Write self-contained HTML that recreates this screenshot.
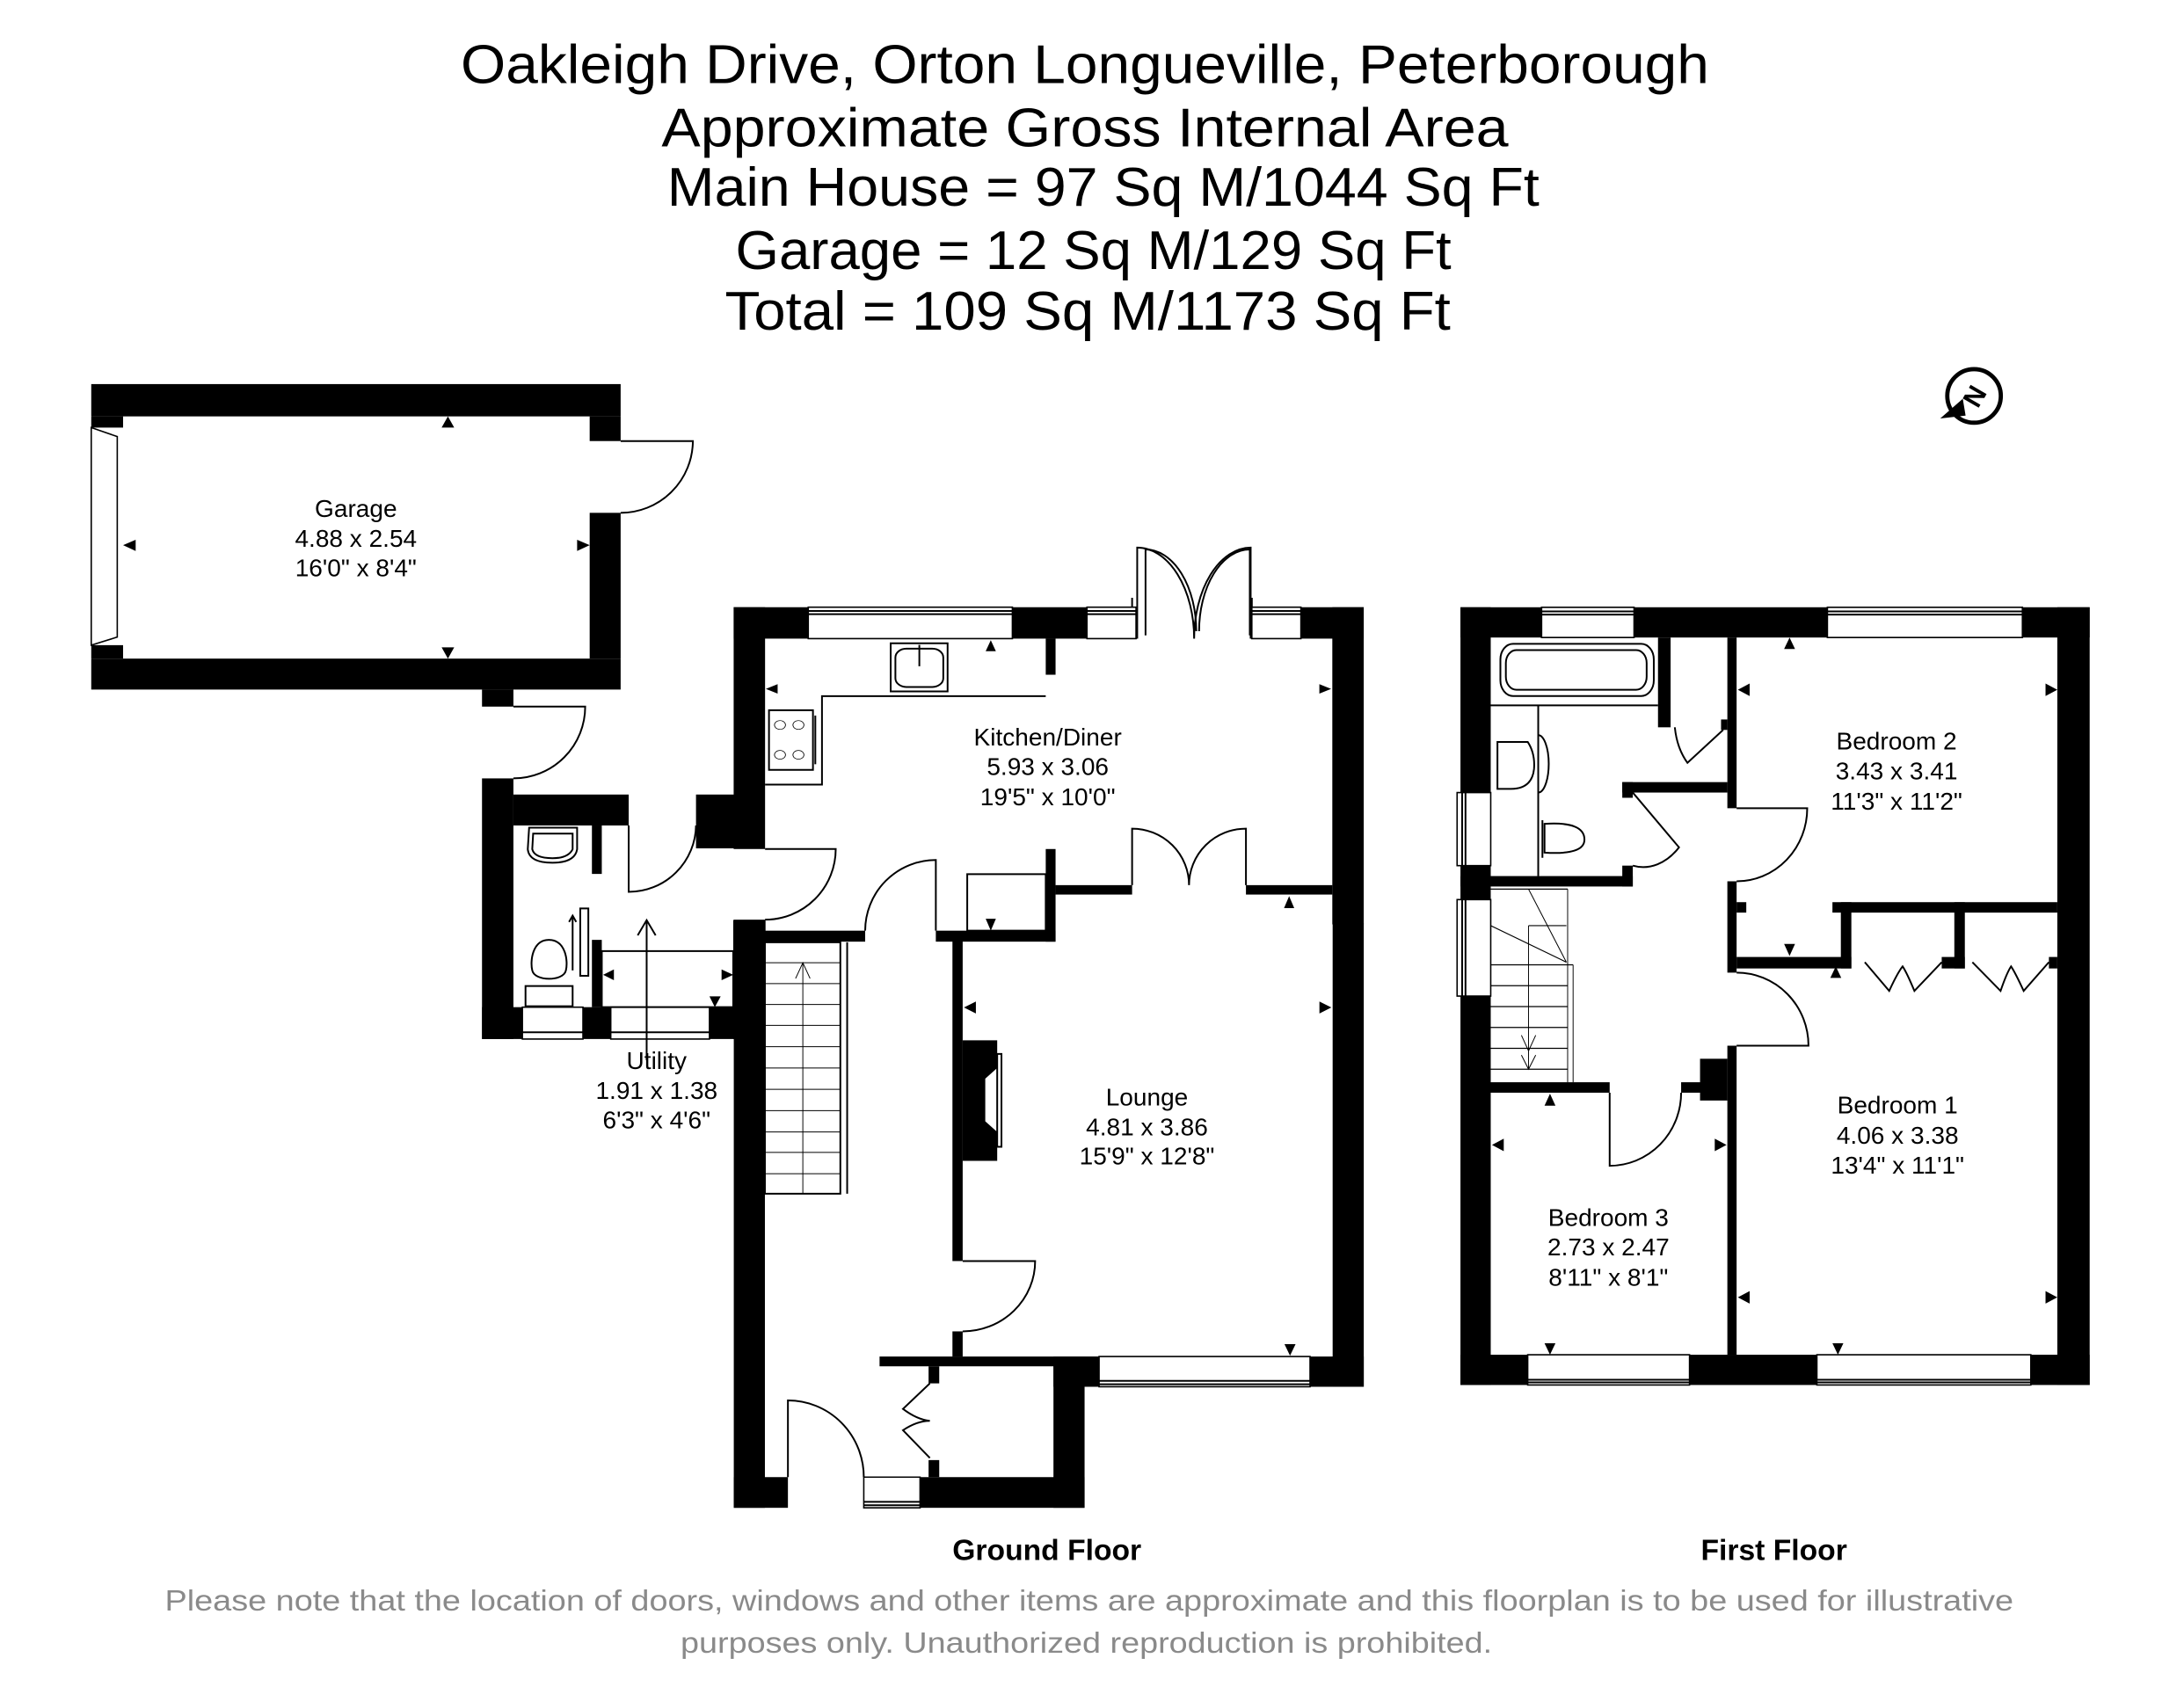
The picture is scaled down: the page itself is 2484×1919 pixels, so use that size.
<!DOCTYPE html>
<html><head><meta charset="utf-8"><style>
html,body{margin:0;padding:0;background:#fff}
svg{display:block}
.s{fill:none;stroke:#000;stroke-width:2;vector-effect:non-scaling-stroke}
.w{fill:#fff;stroke:#000;stroke-width:1.6;vector-effect:non-scaling-stroke}
.t{font-family:"Liberation Sans",sans-serif;fill:#000}
</style></head><body>
<svg width="2484" height="1919" viewBox="0 0 1550 1197.4" xmlns="http://www.w3.org/2000/svg">
<rect width="1550" height="1197.4" fill="#fff"/>
<!-- Title -->
<g class="t" font-size="39" text-anchor="middle">
<text x="770" y="59" textLength="886" lengthAdjust="spacingAndGlyphs">Oakleigh Drive, Orton Longueville, Peterborough</text>
<text x="770" y="104" textLength="601" lengthAdjust="spacingAndGlyphs">Approximate Gross Internal Area</text>
<text x="783" y="146" textLength="619" lengthAdjust="spacingAndGlyphs">Main House = 97 Sq M/1044 Sq Ft</text>
<text x="776" y="191" textLength="508" lengthAdjust="spacingAndGlyphs">Garage = 12 Sq M/129 Sq Ft</text>
<text x="772" y="234" textLength="515" lengthAdjust="spacingAndGlyphs">Total = 109 Sq M/1173 Sq Ft</text>
</g>

<!-- Compass -->
<g transform="translate(1401,281)">
<circle r="19" fill="none" stroke="#000" stroke-width="3"/>
<text class="t" x="0" y="7" font-size="19" font-weight="bold" text-anchor="middle" transform="rotate(-60)">N</text>
<path d="M-24,16 L-8,2 L-6,14 Z" fill="#000"/>
</g>

<!-- Garage + utility (zoom3 coords) -->
<g transform="translate(56.16,262.1) scale(0.3184)">
<rect x="27" y="33" width="1180" height="72"/>
<rect x="27" y="105" width="71" height="25"/>
<rect x="27" y="615" width="71" height="30"/>
<path class="w" d="M27,130 L85,150 L85,597 L27,615 Z"/>
<rect x="27" y="645" width="1180" height="69"/>
<rect x="1138" y="105" width="69" height="55"/>
<rect x="1138" y="320" width="69" height="325"/>
<path class="s" d="M1207,160 L1368,160 A161,161 0 0 1 1207,320"/>
<rect x="898" y="714" width="70" height="38"/>
<path class="s" d="M968,752 L1128,752 A160,160 0 0 1 968,912"/>
<rect x="898" y="912" width="70" height="581"/>
<rect x="968" y="948" width="257" height="69"/>
<rect x="1143" y="1017" width="22" height="108"/>
<rect x="1143" y="1272" width="22" height="150"/>
<path class="s" d="M1225,1017 L1225,1165 A150,150 0 0 0 1375,1017"/>
<rect x="1375" y="948" width="90" height="120"/>
<rect x="898" y="1422" width="90" height="71"/>
<rect x="988" y="1422" width="135" height="71" class="w"/>
<line class="s" x1="988" y1="1478" x2="1123" y2="1478"/>
<rect x="1123" y="1422" width="62" height="71"/>
<rect x="1185" y="1422" width="220" height="71" class="w"/>
<line class="s" x1="1185" y1="1478" x2="1405" y2="1478"/>
<rect x="1405" y="1422" width="60" height="71"/>
<rect x="1458" y="1228" width="72" height="265"/>
<rect class="s" x="1165" y="1297" width="293" height="125"/>
<path class="s" d="M1265,1540 L1265,1228 M1245,1262 L1265,1228 L1285,1262"/>
<path class="s" d="M1003,1022 L1110,1022 L1110,1070 Q1105,1100 1055,1100 Q1003,1100 1000,1070 Z M1012,1035 L1100,1035 L1100,1070 Q1090,1090 1055,1090 Q1015,1090 1010,1070 Z"/>
<rect class="s" x="1117" y="1202" width="18" height="150"/>
<path class="s" d="M1100,1340 L1100,1220 M1092,1232 L1100,1218 L1108,1232"/>
<path class="s" d="M995,1375 L1100,1375 L1100,1420 L995,1420 Z M1047,1272 C1010,1272 1005,1320 1010,1340 C1015,1365 1080,1365 1085,1340 C1090,1320 1085,1272 1047,1272 Z"/>
<path d="M808,130 L822,105 L836,130 Z M808,620 L822,645 L836,620 Z M98,392 L126,380 L126,405 Z M1138,392 L1110,380 L1110,405 Z M1168,1350 L1192,1338 L1192,1362 Z M1458,1350 L1432,1338 L1432,1362 Z M1405,1398 L1430,1398 L1417,1422 Z M1405,1045 L1430,1045 L1417,1020 Z"/>
</g>

<!-- Ground floor upper (zoom1 coords) -->
<g transform="translate(517.9,424.3) scale(0.2786,0.2229)">
<rect x="10" y="30" width="80" height="770"/>
<rect x="10" y="1025" width="80" height="60"/>
<rect x="10" y="30" width="190" height="100"/>
<rect class="w" x="200" y="30" width="520" height="100"/>
<line class="s" x1="200" y1="42" x2="720" y2="42"/><line class="s" x1="200" y1="52" x2="720" y2="52"/>
<rect x="720" y="30" width="190" height="100"/>
<rect class="w" x="910" y="30" width="125" height="100"/>
<line class="s" x1="910" y1="42" x2="1035" y2="42"/><line class="s" x1="910" y1="52" x2="1035" y2="52"/>
<rect class="w" x="1330" y="30" width="125" height="100"/>
<line class="s" x1="1330" y1="42" x2="1455" y2="42"/><line class="s" x1="1330" y1="52" x2="1455" y2="52"/>
<rect x="1455" y="30" width="160" height="100"/>
<rect x="1535" y="30" width="80" height="1010"/>
<rect x="805" y="130" width="25" height="115"/>
<path class="s" d="M90,595 L235,595 L235,313 L805,313"/>
<rect class="s" x="410" y="145" width="145" height="153"/>
<rect class="s" x="422" y="162" width="122" height="122" rx="28"/>
<line class="s" x1="483" y1="150" x2="483" y2="218"/>
<rect class="s" x="100" y="358" width="112" height="190"/>
<line class="s" x1="218" y1="375" x2="218" y2="530"/>
<g class="s"><circle cx="128" cy="405" r="14"/><circle cx="175" cy="405" r="14"/><circle cx="128" cy="500" r="14"/><circle cx="175" cy="500" r="14"/></g>
<path class="s" d="M1025,0 L1025,30 M1330,0 L1330,30"/>
<path class="s" d="M1038,130 L1038,-160 A145,290 0 0 1 1183,130 M1327,130 L1327,-160 A145,290 0 0 0 1183,130" transform="translate(0,0)"/>
<rect x="830" y="915" width="195" height="30"/>
<rect x="1315" y="915" width="220" height="30"/>
<path class="s" d="M1025,915 L1025,735 A145,180 0 0 1 1170,915 M1315,915 L1315,735 A145,180 0 0 0 1170,915"/>
<rect x="805" y="800" width="25" height="295"/>
<rect x="525" y="1060" width="305" height="35"/>
<rect x="90" y="1060" width="255" height="35"/>
<path class="s" d="M525,1060 L525,835 A180,225 0 0 0 345,1060"/>
<path class="s" d="M90,800 L270,800 A180,225 0 0 1 90,1025"/>
<rect class="s" x="605" y="880" width="200" height="180"/>
<path d="M652,170 L665,135 L678,170 Z M92,290 L122,275 L122,305 Z M1532,290 L1502,275 L1502,305 Z M652,1022 L678,1022 L665,1060 Z M1412,988 L1425,950 L1438,988 Z"/>
</g>
<!-- French doors above kitchen (display coords) -->
<path class="s" d="M813,451 L813,390 A36,58 0 0 1 849,448 M887,451 L887,390 A36,58 0 0 0 851,448"/>

<!-- Ground floor lower (zoom4 coords) -->
<g transform="translate(511.7,655.2) scale(0.3025)">
<rect x="30" y="0" width="73" height="1372"/>
<rect x="30" y="1300" width="127" height="72"/>
<rect class="w" x="335" y="1300" width="132" height="72"/>
<line class="s" x1="335" y1="1358" x2="467" y2="1358"/><line class="s" x1="335" y1="1366" x2="467" y2="1366"/>
<rect x="467" y="1300" width="386" height="72"/>
<rect x="780" y="1017" width="73" height="355"/>
<rect x="780" y="1017" width="107" height="71"/>
<rect class="w" x="887" y="1017" width="495" height="71"/>
<line class="s" x1="887" y1="1074" x2="1382" y2="1074"/><line class="s" x1="887" y1="1082" x2="1382" y2="1082"/>
<rect x="1382" y="1017" width="126" height="71"/>
<rect x="1435" y="0" width="73" height="1088"/>
<rect x="372" y="1017" width="515" height="23"/>
<rect x="487" y="1040" width="25" height="40"/>
<rect x="487" y="1260" width="25" height="40"/>
<path class="s" d="M490,1080 L427,1140 Q460,1165 490,1168 M490,1255 L427,1190 Q460,1168 490,1168"/>
<path class="s" d="M157,1300 L157,1120 A178,180 0 0 1 335,1300"/>
<rect x="543" y="40" width="24" height="753"/>
<rect x="543" y="958" width="24" height="59"/>
<path class="s" d="M567,793 L737,793 A170,165 0 0 1 567,958"/>
<path d="M567,275 L648,275 L648,340 L620,365 L620,465 L648,490 L648,558 L567,558 Z"/>
<rect class="s" x="648" y="307" width="10" height="218"/>
<rect class="s" x="103" y="45" width="177" height="590"/>
<line class="s" x1="296" y1="45" x2="296" y2="635"/>
<g class="s">
<line x1="103" y1="93" x2="280" y2="93"/><line x1="103" y1="142" x2="280" y2="142"/><line x1="103" y1="191" x2="280" y2="191"/><line x1="103" y1="240" x2="280" y2="240"/><line x1="103" y1="290" x2="280" y2="290"/><line x1="103" y1="340" x2="280" y2="340"/><line x1="103" y1="390" x2="280" y2="390"/><line x1="103" y1="440" x2="280" y2="440"/><line x1="103" y1="490" x2="280" y2="490"/><line x1="103" y1="538" x2="280" y2="538"/><line x1="103" y1="588" x2="280" y2="588"/>
<path d="M192,635 L192,95 M175,130 L192,93 L209,130"/>
</g>
<path d="M570,198 L598,184 L598,212 Z M1432,198 L1404,184 L1404,212 Z M1322,988 L1348,988 L1335,1015 Z"/>
</g>

<!-- First floor (zoom2 coords) -->
<g transform="translate(1036.5,423.6) scale(0.2983,0.3705)">
<rect x="0" y="20" width="1497" height="58"/>
<rect class="w" x="193" y="20" width="220" height="58"/><line class="s" x1="193" y1="28" x2="413" y2="28"/><line class="s" x1="193" y1="34" x2="413" y2="34"/>
<rect class="w" x="873" y="20" width="464" height="58"/><line class="s" x1="873" y1="28" x2="1337" y2="28"/><line class="s" x1="873" y1="34" x2="1337" y2="34"/>
<rect x="0" y="20" width="72" height="1490"/>
<rect class="w" x="-8" y="375" width="80" height="140"/><line class="s" x1="4" y1="375" x2="4" y2="515"/><line class="s" x1="12" y1="375" x2="12" y2="515"/>
<rect class="w" x="-8" y="580" width="80" height="185"/><line class="s" x1="4" y1="580" x2="4" y2="765"/><line class="s" x1="12" y1="580" x2="12" y2="765"/>
<rect x="1420" y="20" width="77" height="1490"/>
<rect x="0" y="1452" width="1497" height="58"/>
<rect class="w" x="160" y="1452" width="385" height="58"/><line class="s" x1="160" y1="1500" x2="545" y2="1500"/><line class="s" x1="160" y1="1505" x2="545" y2="1505"/>
<rect class="w" x="848" y="1452" width="509" height="58"/><line class="s" x1="848" y1="1500" x2="1357" y2="1500"/><line class="s" x1="848" y1="1505" x2="1357" y2="1505"/>
<rect x="635" y="78" width="22" height="327"/>
<rect x="635" y="545" width="22" height="175"/>
<rect x="635" y="860" width="22" height="592"/>
<rect x="657" y="585" width="23" height="20"/>
<rect x="885" y="585" width="535" height="20"/>
<rect x="657" y="690" width="273" height="22"/>
<rect x="905" y="585" width="25" height="127"/>
<rect x="1175" y="585" width="25" height="127"/>
<rect x="1145" y="690" width="55" height="22"/>
<rect x="1400" y="690" width="20" height="22"/>
<path class="s" d="M962,700 L1020,755 Q1040,720 1052,708 Q1062,720 1080,755 L1145,700 M1218,700 L1285,755 Q1300,720 1310,708 Q1320,720 1340,755 L1400,700"/>
<rect x="470" y="78" width="30" height="172"/>
<rect x="620" y="235" width="15" height="20"/>
<path class="s" d="M510,250 Q515,290 540,318 L625,255"/>
<rect x="385" y="355" width="250" height="20"/>
<rect x="385" y="355" width="25" height="30"/>
<rect x="385" y="515" width="25" height="40"/>
<rect x="0" y="535" width="410" height="20"/>
<path class="s" d="M410,375 L520,480 A125,140 0 0 1 410,515"/>
<rect class="s" x="95" y="90" width="365" height="100" rx="30"/>
<rect class="s" x="108" y="102" width="335" height="76" rx="25"/>
<line class="s" x1="72" y1="208" x2="470" y2="208"/>
<line class="s" x1="185" y1="208" x2="185" y2="535"/>
<path class="s" d="M185,265 A25,55 0 0 1 185,375"/>
<path class="s" d="M88,278 L160,278 Q178,300 175,330 Q170,368 120,368 L88,368 Z"/>
<path class="s" d="M200,435 Q295,430 295,465 Q295,495 200,490 Z M195,428 L195,500"/>
<g class="s">
<line x1="72" y1="560" x2="255" y2="560"/>
<line x1="255" y1="560" x2="255" y2="930"/><line x1="268" y1="705" x2="268" y2="930"/>
<path d="M162,560 L252,700 M72,630 L252,700 M162,630 L252,630"/>
<line x1="162" y1="630" x2="162" y2="705"/>
<line x1="72" y1="705" x2="268" y2="705"/><line x1="72" y1="745" x2="255" y2="745"/><line x1="72" y1="785" x2="255" y2="785"/><line x1="72" y1="825" x2="255" y2="825"/><line x1="72" y1="865" x2="255" y2="865"/><line x1="72" y1="905" x2="255" y2="905"/>
<path d="M162,705 L162,905 M145,840 L162,870 L179,840 M145,878 L162,905 L179,878"/>
</g>
<rect x="72" y="930" width="283" height="20"/>
<rect x="525" y="930" width="50" height="20"/>
<rect x="570" y="885" width="65" height="80"/>
<path class="s" d="M355,950 L355,1090 A170,140 0 0 0 525,950"/>
<path class="s" d="M657,405 L825,405 A168,140 0 0 1 657,545"/>
<path class="s" d="M657,860 L828,860 A171,140 0 0 0 657,720"/>
<path d="M770,100 L783,78 L796,100 Z M660,178 L688,166 L688,190 Z M1420,178 L1392,166 L1392,190 Z M770,665 L796,665 L783,688 Z M880,730 L906,730 L893,708 Z M200,975 L226,975 L213,952 Z M75,1050 L103,1038 L103,1062 Z M633,1050 L605,1038 L605,1062 Z M660,1342 L688,1330 L688,1354 Z M1420,1342 L1392,1330 L1392,1354 Z M200,1430 L226,1430 L213,1452 Z M885,1430 L911,1430 L898,1452 Z"/>
</g>

<!-- Room labels -->
<g class="t" font-size="17.5" text-anchor="middle">
<text x="252.6" y="367">Garage</text><text x="252.6" y="388">4.88 x 2.54</text><text x="252.6" y="409">16'0" x 8'4"</text>
<text x="743.6" y="529">Kitchen/Diner</text><text x="743.6" y="550">5.93 x 3.06</text><text x="743.6" y="571.6">19'5" x 10'0"</text>
<text x="466" y="758.8">Utility</text><text x="466" y="780">1.91 x 1.38</text><text x="466" y="801">6'3" x 4'6"</text>
<text x="814" y="784.7">Lounge</text><text x="814" y="805.8">4.81 x 3.86</text><text x="814" y="826.4">15'9" x 12'8"</text>
<text x="1346" y="531.8">Bedroom 2</text><text x="1346" y="553.3">3.43 x 3.41</text><text x="1346" y="574.8">11'3" x 11'2"</text>
<text x="1346.7" y="790.4">Bedroom 1</text><text x="1346.7" y="811.9">4.06 x 3.38</text><text x="1346.7" y="833">13'4" x 11'1"</text>
<text x="1141.5" y="870">Bedroom 3</text><text x="1141.5" y="891">2.73 x 2.47</text><text x="1141.5" y="912.6">8'11" x 8'1"</text>
</g>
<g class="t" font-size="21" font-weight="bold" text-anchor="middle">
<text x="743" y="1107.4">Ground Floor</text>
<text x="1259" y="1107.4">First Floor</text>
</g>
<g class="t" font-size="21" text-anchor="middle" style="fill:#8a8a8a">
<text x="773" y="1143" textLength="1312" lengthAdjust="spacingAndGlyphs">Please note that the location of doors, windows and other items are approximate and this floorplan is to be used for illustrative</text>
<text x="771" y="1173" textLength="576" lengthAdjust="spacingAndGlyphs">purposes only. Unauthorized reproduction is prohibited.</text>
</g>
</svg>
</body></html>
